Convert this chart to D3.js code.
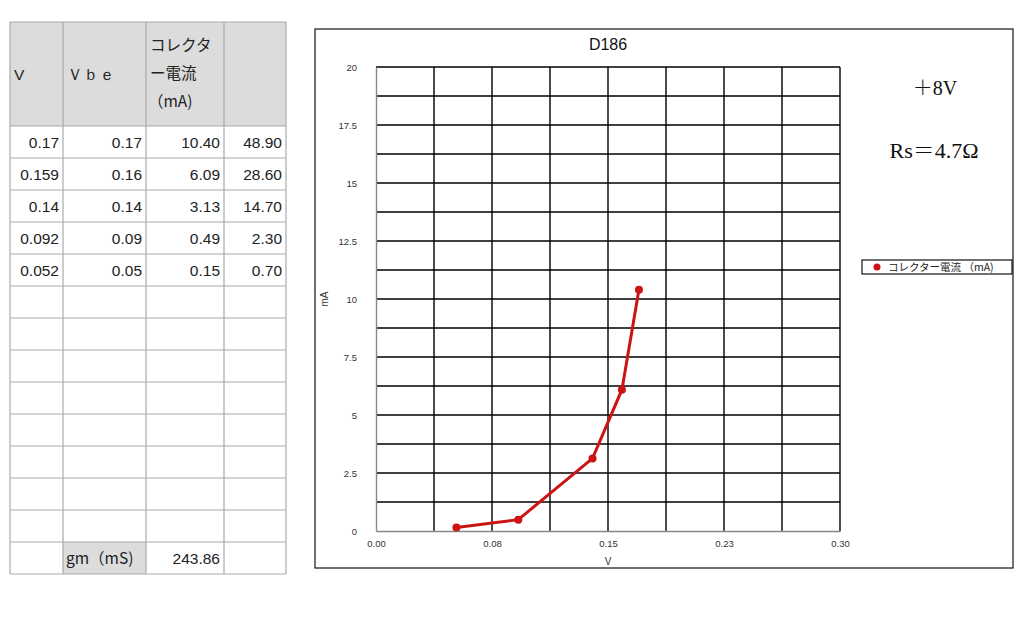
<!DOCTYPE html>
<html>
<head>
<meta charset="utf-8">
<script src="https://cdn.jsdelivr.net/npm/d3@7"></script>
<style>
  body { margin: 0; background: #fff; }
  svg { display: block; font-family: "Liberation Sans", Arial, sans-serif; }
</style>
</head>
<body>
<div id="viz"></div>
<script>
// table columns
const colV = ['0.17', '0.159', '0.14', '0.092', '0.052'];
const colVbe = ['0.17', '0.16', '0.14', '0.09', '0.05'];
const colIc = ['10.40', '6.09', '3.13', '0.49', '0.15'];
const colGm = ['48.90', '28.60', '14.70', '2.30', '0.70'];
const gmValue = '243.86';

// chart series (V vs collector current)
const seriesV = [0.17, 0.159, 0.14, 0.092, 0.052];
const seriesIc = [10.40, 6.09, 3.13, 0.49, 0.15];
const xTicks = [0, 0.075, 0.15, 0.225, 0.30];
const xTickLabels = ['0.00', '0.08', '0.15', '0.23', '0.30'];
const yTicks = [0, 2.5, 5, 7.5, 10, 12.5, 15, 17.5, 20];

const svg = d3.select('#viz').append('svg')
  .attr('width', 1024)
  .attr('height', 629);

// ---- table ----
const colX = [10, 63, 146, 224, 286];
const headTop = 22, headBottom = 126, rowH = 32, nRows = 14;
const tbl = svg.append('g');

tbl.append('rect').attr('x', colX[0]).attr('y', headTop)
  .attr('width', colX[4] - colX[0]).attr('height', headBottom - headTop)
  .attr('fill', '#dcdcdc');
// gm label cell
const gmY = headBottom + (nRows - 1) * rowH;
tbl.append('rect').attr('x', colX[1]).attr('y', gmY)
  .attr('width', colX[2] - colX[1]).attr('height', rowH)
  .attr('fill', '#dcdcdc');

const bottom = headBottom + nRows * rowH;
const hLines = [headTop, headBottom].concat(d3.range(1, nRows + 1).map(i => headBottom + i * rowH));
tbl.selectAll('line.h').data(hLines).join('line')
  .attr('x1', colX[0]).attr('x2', colX[4])
  .attr('y1', d => d).attr('y2', d => d)
  .attr('stroke', '#aaa').attr('stroke-width', 1.2);
tbl.selectAll('line.v').data(colX).join('line')
  .attr('x1', d => d).attr('x2', d => d)
  .attr('y1', headTop).attr('y2', bottom)
  .attr('stroke', '#aaa').attr('stroke-width', 1.2);

const tfont = 15.5;
tbl.append('text').attr('x', 14).attr('y', 80).attr('font-size', tfont).attr('fill', '#222').text('V');
tbl.append('text').attr('x', 67).attr('y', 80).attr('font-size', tfont).attr('fill', '#222').text('Ｖｂｅ');
['コレクタ', 'ー電流', '（mA)'].forEach((t, i) => {
  tbl.append('text').attr('x', i === 2 ? 148 : 150).attr('y', 51 + i * 28)
    .attr('font-size', tfont).attr('fill', '#222')
    .attr('font-family', '"Noto Sans CJK JP", "Liberation Sans", sans-serif').text(t);
});

const cols = [colV, colVbe, colIc, colGm];
cols.forEach((col, ci) => {
  tbl.selectAll(null).data(col).join('text')
    .attr('x', colX[ci + 1] - 4)
    .attr('y', (d, i) => headBottom + i * rowH + 22)
    .attr('text-anchor', 'end')
    .attr('font-size', tfont).attr('fill', '#222')
    .text(d => d);
});
tbl.append('text').attr('x', 66).attr('y', gmY + 22)
  .attr('font-size', tfont).attr('fill', '#222')
  .attr('font-family', '"Noto Sans CJK JP", "Liberation Sans", sans-serif').text('gm（mS)');
tbl.append('text').attr('x', colX[3] - 4).attr('y', gmY + 22)
  .attr('text-anchor', 'end').attr('font-size', tfont).attr('fill', '#222').text(gmValue);

// ---- chart ----
svg.append('rect').attr('x', 315).attr('y', 29).attr('width', 698).attr('height', 539)
  .attr('fill', 'none').attr('stroke', '#111').attr('stroke-width', 1.2);

const x = d3.scaleLinear().domain([0, 0.30]).range([376, 840]);
const y = d3.scaleLinear().domain([0, 20]).range([531, 67]);

const grid = svg.append('g');
grid.selectAll('line.gx').data(d3.range(1, 9).map(i => i * 0.0375)).join('line')
  .attr('x1', d => x(d)).attr('x2', d => x(d))
  .attr('y1', y(0)).attr('y2', y(20))
  .attr('stroke', '#000').attr('stroke-width', 1.4);
grid.selectAll('line.gy').data(d3.range(1, 17).map(i => i * 1.25)).join('line')
  .attr('x1', x(0)).attr('x2', x(0.30))
  .attr('y1', d => y(d)).attr('y2', d => y(d))
  .attr('stroke', '#000').attr('stroke-width', 1.4);

const xAxis = svg.append('g').attr('transform', `translate(0,${y(0)})`)
  .call(d3.axisBottom(x).tickValues(xTicks).tickSize(0).tickPadding(9)
    .tickFormat((d, i) => xTickLabels[i]));
const yAxis = svg.append('g').attr('transform', `translate(${x(0)},0)`)
  .call(d3.axisLeft(y).tickValues(yTicks).tickSize(0).tickPadding(19).tickFormat(d => d));
[xAxis, yAxis].forEach(a => {
  a.select('.domain').attr('stroke', '#888').attr('stroke-width', 1.4);
  a.selectAll('text').attr('font-size', 9.5).attr('fill', '#333')
    .attr('font-family', '"Liberation Sans", Arial, sans-serif');
});

svg.append('text').attr('x', 608).attr('y', 50).attr('text-anchor', 'middle')
  .attr('font-size', 16).attr('fill', '#111').text('D186');
svg.append('text').attr('x', 608).attr('y', 565).attr('text-anchor', 'middle')
  .attr('font-size', 10).attr('fill', '#333').text('V');
svg.append('text').attr('transform', 'translate(328,299) rotate(-90)')
  .attr('text-anchor', 'middle').attr('font-size', 10).attr('fill', '#333').text('mA');

const pts = seriesV.map((v, i) => [v, seriesIc[i]]);
svg.append('path').datum(pts)
  .attr('d', d3.line().x(d => x(d[0])).y(d => y(d[1])))
  .attr('fill', 'none').attr('stroke', '#cc1414').attr('stroke-width', 3);
svg.selectAll('circle.pt').data(pts).join('circle')
  .attr('cx', d => x(d[0])).attr('cy', d => y(d[1])).attr('r', 4)
  .attr('fill', '#cc1414');

// annotations
const a1 = svg.append('text').attr('x', 935).attr('y', 95).attr('text-anchor', 'middle')
  .attr('font-family', '"Liberation Serif", serif')
  .attr('font-size', 20).attr('fill', '#111');
a1.append('tspan').attr('font-family', '"Noto Sans CJK JP", sans-serif').attr('font-weight', 300).text('＋');
a1.append('tspan').text('8V');
svg.append('text').attr('x', 934).attr('y', 158).attr('text-anchor', 'middle')
  .attr('font-family', '"Liberation Serif", "Noto Serif CJK JP", serif')
  .attr('font-size', 22).attr('fill', '#111').text('Rs＝4.7Ω');

// legend
const lg = svg.append('g');
lg.append('rect').attr('x', 862).attr('y', 260).attr('width', 150).attr('height', 14)
  .attr('fill', '#fff').attr('stroke', '#111').attr('stroke-width', 1.2);
lg.append('circle').attr('cx', 877).attr('cy', 267).attr('r', 3.5).attr('fill', '#cc1414');
lg.append('text').attr('x', 888).attr('y', 271)
  .attr('font-family', '"Noto Sans CJK JP", sans-serif')
  .attr('font-size', 10.5).attr('fill', '#222').text('コレクター電流 （mA)');
</script>
</body>
</html>
